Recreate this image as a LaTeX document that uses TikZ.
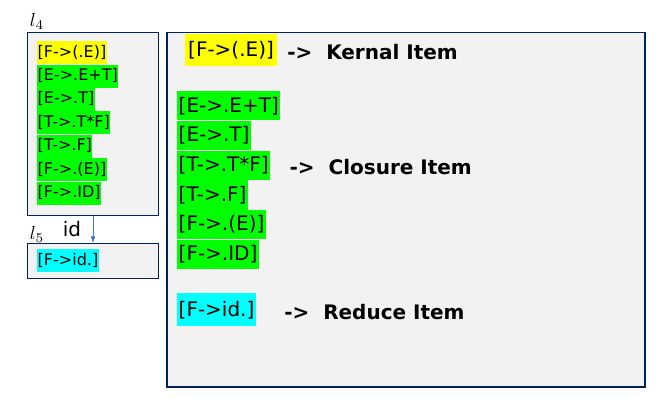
\documentclass[tikz,border=0pt]{standalone}
\usepackage{fontspec}
\setmainfont{DejaVu Sans}
\usetikzlibrary{arrows.meta,positioning}
\definecolor{boxline}{HTML}{002060}
\definecolor{boxfill}{HTML}{F2F2F2}
\definecolor{kernal}{HTML}{FFFF00}
\definecolor{closure}{HTML}{00FF00}
\definecolor{reduce}{HTML}{00FFFF}
\definecolor{arrowblue}{HTML}{4472C4}
\newcommand{\setname}[1]{\scalebox{1.9}{$l_{#1}$}}

\begin{document}
\begin{tikzpicture}[x=1pt, y=-1pt, >=Latex,
  setbox/.style={draw=boxline, fill=boxfill, line width=1pt, inner sep=0pt, anchor=north west},
  small/.style={font=\fontsize{16}{18}\selectfont, inner xsep=0.5pt, inner ysep=0pt, text height=16pt, text depth=7pt, anchor=north west},
  big/.style={font=\fontsize{20}{24}\selectfont, inner xsep=1.5pt, inner ysep=0pt, text height=21pt, text depth=8.3pt, anchor=north west},
  tag/.style={font=\bfseries\fontsize{20}{24}\selectfont, inner sep=0pt, yshift=-2pt},
  arrow/.style={->, draw=arrowblue, thick}]
  \useasboundingbox (0,0) rectangle (670,409);
  % item set boxes
  \node[setbox, minimum width=131pt, minimum height=183pt] (i4) at (27,32) {};
  \node[setbox, minimum width=131pt, minimum height=35pt] (i5) at (27,243) {};
  \node[setbox, line width=1.5pt, minimum width=478pt, minimum height=354pt] (legend) at (166,32) {};
  \node[inner sep=0pt] (i4name) at (37,21) {\setname{4}};
  \node[inner sep=0pt] (i5name) at (37,234) {\setname{5}};
  \node[font=\fontsize{20}{24}\selectfont] (idlabel) at (72,229) {id};
  \draw[arrow] (i4.south) -- (i5.north);
  % items of I4
  \node[small, fill=kernal] (s1) at (37,41) {[F->(.E)]};
  \node[small, fill=closure, below=0pt of s1.south west, anchor=north west] (s2) {[E->.E+T]};
  \node[small, fill=closure, below=0pt of s2.south west, anchor=north west] (s3) {[E->.T]};
  \node[small, fill=closure, below=0pt of s3.south west, anchor=north west] (s4) {[T->.T*F]};
  \node[small, fill=closure, below=0pt of s4.south west, anchor=north west] (s5) {[T->.F]};
  \node[small, fill=closure, below=0pt of s5.south west, anchor=north west] (s6) {[F->.(E)]};
  \node[small, fill=closure, below=0pt of s6.south west, anchor=north west] (s7) {[F->.ID]};
  % item of I5
  \node[small, fill=reduce] (r1) at (37,249) {[F->id.]};
  % legend
  \node[big, fill=kernal, inner xsep=3pt, inner ysep=1.5pt] (b1) at (185,34) {[F->(.E)]\hspace{3pt}};
  \node[big, fill=closure] (b2) at (177,91) {[E->.E+T]};
  \node[big, fill=closure, below=0pt of b2.south west, anchor=north west] (b3) {[E->.T]};
  \node[big, fill=closure, below=0pt of b3.south west, anchor=north west] (b4) {[T->.T*F]};
  \node[big, fill=closure, below=0pt of b4.south west, anchor=north west] (b5) {[T->.F]};
  \node[big, fill=closure, below=0pt of b5.south west, anchor=north west] (b6) {[F->.(E)]};
  \node[big, fill=closure, below=0pt of b6.south west, anchor=north west] (b7) {[F->.ID]};
  \node[big, fill=reduce, inner ysep=1.8pt] (b8) at (177,293) {[F->id.]\hspace{9pt}};
  \node[tag, right=10pt of b1] (kernaltag) {->~~Kernal Item};
  \node[tag, right=19pt of b4] (closuretag) {->~~Closure Item};
  \node[tag, right=28pt of b8] (reducetag) {->~~Reduce Item};
\end{tikzpicture}
\end{document}
